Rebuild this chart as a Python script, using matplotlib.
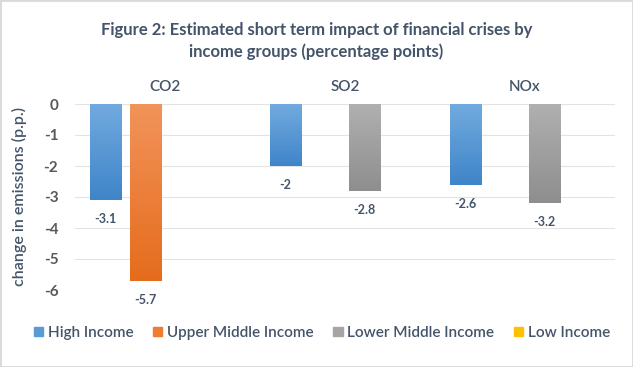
import numpy as np
import matplotlib
matplotlib.use("Agg")
import matplotlib.pyplot as plt
from matplotlib.colors import LinearSegmentedColormap
from matplotlib.patches import Rectangle

plt.rcParams['font.family'] = ['Lato', 'DejaVu Sans']
plt.rcParams['axes.unicode_minus'] = False

categories = ['CO2', 'SO2', 'NOx']
series = ['High Income', 'Upper Middle Income', 'Lower Middle Income', 'Low Income']
high_income = [-3.1, -2.0, -2.6]
upper_middle = [-5.7, np.nan, np.nan]
lower_middle = [np.nan, -2.8, -3.2]
low_income = [np.nan, np.nan, np.nan]
values = [high_income, upper_middle, lower_middle, low_income]

# top and bottom colours of the gradient fills
grads = [('#72aadf', '#3f85c9'), ('#f2935a', '#e56c1c'),
         ('#b0b0b0', '#8e8e8e'), ('#ffd24d', '#f5b800')]
legend_cols = ['#5b9bd5', '#ed7d31', '#a5a5a5', '#ffc000']
text_col = '#44546a'
tick_col = '#595959'

fig = plt.figure(figsize=(6.33, 3.67), dpi=100)
ax = fig.add_axes([75/633, 1-290/367, 540/633, 186/367])

x = np.arange(len(categories))
step = 39.5/180
width = 31.5/180
for i, (name, vals) in enumerate(zip(series, values)):
    pos = x + (i - 1.5)*step
    bars = ax.bar(pos, vals, width, color=legend_cols[i], label=name, zorder=2)
    cmap = LinearSegmentedColormap.from_list('g%d' % i, grads[i])
    for b, v in zip(bars, vals):
        if np.isnan(v):
            continue
        b.set_facecolor('none')
        b.set_edgecolor('none')
        x0 = b.get_x()
        grad = np.linspace(0, 1, 100).reshape(-1, 1)
        im = ax.imshow(grad, cmap=cmap, aspect='auto',
                       extent=[x0, x0 + b.get_width(), v, 0],
                       origin='upper', zorder=2)
        im.set_clip_path(b)
        ax.text(b.get_x() + b.get_width()/2, v - 0.42, '%g' % v,
                ha='center', va='top', fontsize=9, fontweight='bold',
                color=text_col)

ax.set_xlim(-0.5, 2.5)
ax.set_ylim(-6, 0)
ax.set_yticks(range(-6, 1))
ax.yaxis.grid(True, color='#e3e3e3', lw=0.8, zorder=0)
ax.set_axisbelow(True)
for s in ax.spines.values():
    s.set_visible(False)
ax.xaxis.tick_top()
ax.set_xticks(x)
ax.set_xticklabels(categories, fontsize=11, color=text_col, fontweight='semibold')
ax.tick_params(axis='x', length=0, pad=7)
ax.tick_params(axis='y', length=0, labelsize=11, labelcolor=tick_col, pad=12)
for t in ax.get_yticklabels():
    t.set_fontweight('bold')
ax.set_ylabel('change in emissions (p.p.)', fontsize=11.5, color=text_col,
              labelpad=12, fontweight='semibold')

fig.text(0.5, 1-41/367, 'Figure 2: Estimated short term impact of financial crises by\nincome groups (percentage points)',
         ha='center', va='center', fontsize=12, fontweight='bold', color=text_col,
         linespacing=1.45)

handles = [Rectangle((0, 0), 1, 1, color=c) for c in legend_cols]
fig.legend(handles, series, loc='center', bbox_to_anchor=(322/633, 1-333/367),
           ncol=4, frameon=False, handlelength=0.6, handleheight=0.6,
           handletextpad=0.3, columnspacing=1.3, labelcolor=text_col,
           prop={'size': 11, 'weight': 'semibold'})

fig.patches.append(Rectangle((0, 0), 1, 1, transform=fig.transFigure,
                             fill=False, edgecolor='#d9d9d9', lw=2))

fig.savefig('out.png', dpi=100)
